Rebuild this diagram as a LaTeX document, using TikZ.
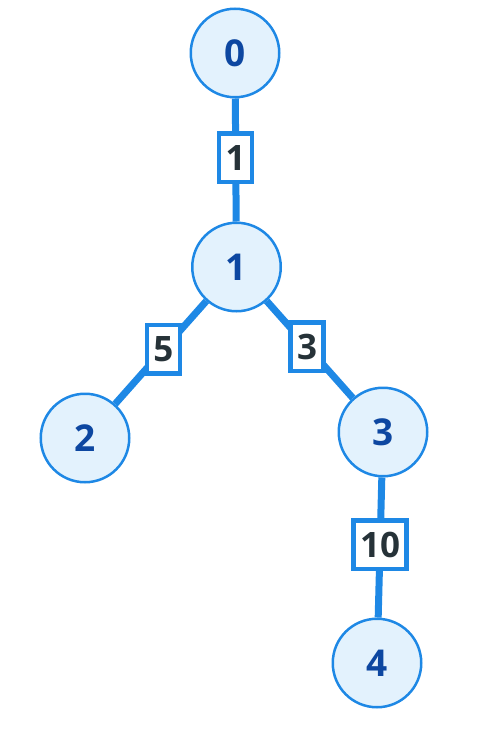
\documentclass[tikz,border=0pt]{standalone}
\usepackage{fontspec}
\setmainfont{Open Sans}
\definecolor{edgeblue}{HTML}{1E88E5}
\definecolor{nodefill}{HTML}{E3F2FD}
\definecolor{nodetext}{HTML}{0D47A1}
\definecolor{lbltext}{HTML}{263238}
\begin{document}
\begin{tikzpicture}[x=1pt,y=-1pt,
  vertex/.style={circle,draw=edgeblue,line width=2.5pt,fill=nodefill,
    minimum size=88.5pt,inner sep=0pt,text=nodetext,
    font=\fontsize{37}{40}\selectfont\bfseries},
  edge/.style={draw=edgeblue,line width=7pt},
  lbl/.style={rectangle,draw=edgeblue,line width=4.5pt,fill=white,
    text=lbltext,inner xsep=6.5pt,inner ysep=0pt,minimum height=48.5pt,
    font=\fontsize{35}{38}\selectfont\bfseries,pos=0.48}]
\useasboundingbox (0,0) rectangle (483,736);
\node[vertex] (n0) at (235,53) {0};
\node[vertex] (n1) at (236.5,267) {1};
\node[vertex] (n2) at (85,438) {2};
\node[vertex] (n3) at (383,432) {3};
\node[vertex] (n4) at (377,663) {4};
\draw[edge] (n0) -- node[lbl]{1} (n1);
\draw[edge] (n1) -- node[lbl,pos=0.47]{5} (n2);
\draw[edge] (n1) -- node[lbl,pos=0.47]{3} (n3);
\draw[edge] (n3) -- node[lbl]{10} (n4);
\end{tikzpicture}
\end{document}
